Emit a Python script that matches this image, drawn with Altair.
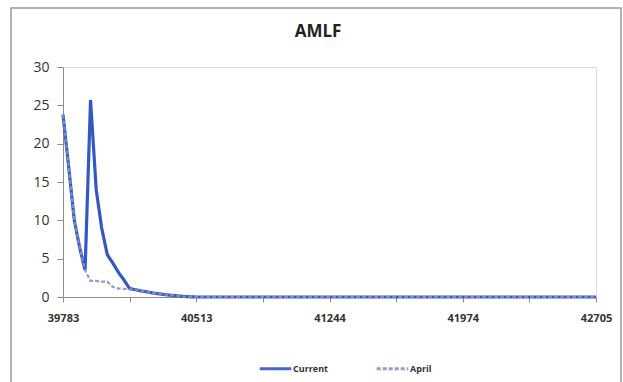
import altair as alt
import pandas as pd

# Month-start dates as spreadsheet serial numbers (Dec 2008 .. Dec 2010, then year ends to 2016)
dates = [39783, 39814, 39845, 39873, 39904, 39934, 39965, 39995, 40026, 40057,
         40087, 40118, 40148, 40179, 40210, 40238, 40269, 40299, 40330, 40360,
         40391, 40422, 40452, 40483, 40513, 40878, 41244, 41609, 41974, 42339, 42705]

current = [23.8, 17.0, 10.0, 6.6, 3.5, 25.7, 14.0, 9.0, 5.5, 4.4,
           3.2, 2.2, 1.1, 0.95, 0.8, 0.7, 0.55, 0.45, 0.35, 0.25,
           0.2, 0.12, 0.06, 0.02, 0.0, 0.0, 0.0, 0.0, 0.0, 0.0, 0.0]

april = [23.8, 17.0, 10.0, 6.6, 3.5, 2.1, 2.1, 2.0, 2.0, 1.3,
         1.1, 1.05, 1.0, 0.95, 0.8, 0.7, 0.55, 0.45, 0.35, 0.25,
         0.2, 0.12, 0.06, 0.02, 0.0, 0.0, 0.0, 0.0, 0.0, 0.0, 0.0]

series_names = ["Current", "April"]
series_colors = ["#3458c2", "#8393cb"]

x_ticks = [39783, 40148.25, 40513.5, 40878.75, 41244, 41609.25, 41974.5, 42339.75, 42705]
x_labelled = [39783, 40513.5, 41244, 41974.5, 42705]
y_ticks = [0, 5, 10, 15, 20, 25, 30]

chart_title = "AMLF"

df = pd.concat([
    pd.DataFrame({"date": dates, "value": current, "series": "Current"}),
    pd.DataFrame({"date": dates, "value": april, "series": "April"}),
])

label_expr = ("indexof([" + ",".join(str(v) for v in x_labelled) +
              "], datum.value) >= 0 ? format(floor(datum.value), 'd') : ''")

x_enc = alt.X(
    "date:Q",
    scale=alt.Scale(domain=[39783, 42705], nice=False, zero=False),
    axis=alt.Axis(values=x_ticks, labelExpr=label_expr, title=None, grid=False,
                  domainColor="#8c8c8c", tickColor="#8c8c8c", tickSize=5,
                  labelFont="Open Sans", labelFontSize=11, labelFontWeight="bold",
                  labelColor="#333333", labelPadding=10, labelFlush=False,
                  labelOverlap=False),
)
y_enc = alt.Y(
    "value:Q",
    scale=alt.Scale(domain=[0, 30], nice=False),
    axis=alt.Axis(values=y_ticks, title=None, grid=False,
                  domainColor="#8c8c8c", tickColor="#8c8c8c", tickSize=6,
                  labelFont="Open Sans", labelFontSize=14, labelColor="#333333",
                  labelPadding=8),
)
color_enc = alt.Color(
    "series:N",
    scale=alt.Scale(domain=series_names, range=series_colors),
    legend=alt.Legend(
        title=None, orient="none", legendX=195, legendY=284, direction="horizontal",
        symbolType="stroke", symbolSize=1000, symbolStrokeWidth=3,
        labelFont="Open Sans", labelFontSize=9, labelFontWeight="bold",
        labelColor="#333333", labelOffset=0, columnPadding=42,
    ),
)
dash_enc = alt.StrokeDash(
    "series:N",
    scale=alt.Scale(domain=series_names, range=[[1, 0], [4, 2]]),
    legend=None,
)

base = alt.Chart(df).encode(x=x_enc, y=y_enc, color=color_enc, strokeDash=dash_enc)

current_line = base.transform_filter(alt.datum.series == "Current").mark_line(strokeWidth=3.2)
april_line = base.transform_filter(alt.datum.series == "April").mark_line(strokeWidth=2.2, opacity=0.9)

one_row = pd.DataFrame({"k": [0]})

# Outer chart frame
frame = alt.Chart(one_row).mark_rect(
    fill=None, stroke="#9a9a9a", strokeWidth=1.5
).encode(x=alt.value(-52), x2=alt.value(558), y=alt.value(-59), y2=alt.value(330))

# Chart heading, placed above the plot area
heading = alt.Chart(one_row).mark_text(
    text=chart_title, font="Open Sans", fontSize=17, fontWeight="bold",
    color="#222222", align="center", baseline="middle"
).encode(x=alt.value(255), y=alt.value(-35))

chart = alt.layer(frame, heading, current_line, april_line).properties(
    width=533,
    height=230,
    autosize=alt.AutoSizeParams(type="none"),
    padding={"left": 63, "top": 67, "right": 27, "bottom": 85},
).configure_view(
    stroke="#b0b0b0", strokeWidth=1
).configure(background="white")

chart.save("out.html", embed_options={"renderer": "svg", "actions": False})
